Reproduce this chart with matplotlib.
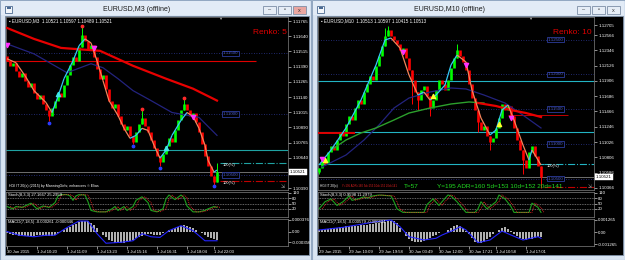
import numpy as np
import matplotlib
matplotlib.use("Agg")
import matplotlib.pyplot as plt
from matplotlib.patches import Rectangle
from matplotlib.collections import LineCollection

plt.rcParams['font.family'] = ['Liberation Sans', 'DejaVu Sans']

W, H = 625, 260

# ---------------- left chart: EURUSD M3, renko 5 ----------------
left_open0 = 1.11480
left_close = [1.11438, 1.11397, 1.11422, 1.11357, 1.11308, 1.11340, 1.11275, 1.11226, 1.11259, 1.11177,
              1.11128, 1.11160, 1.11079, 1.11030, 1.10981, 1.11046, 1.11111, 1.11177, 1.11144, 1.11242,
              1.11324, 1.11406, 1.11471, 1.11438, 1.11553, 1.11651, 1.11602, 1.11536, 1.11569, 1.11471,
              1.11373, 1.11291, 1.11324, 1.11209, 1.11111, 1.11046, 1.11079, 1.10981, 1.10915, 1.10866,
              1.10899, 1.10817, 1.10768, 1.10850, 1.10915, 1.10964, 1.10899, 1.10850, 1.10785, 1.10719,
              1.10654, 1.10605, 1.10670, 1.10736, 1.10801, 1.10768, 1.10866, 1.10948, 1.11030, 1.11079,
              1.11030, 1.10981, 1.11013, 1.10932, 1.10850, 1.10752, 1.10654, 1.10572, 1.10491, 1.10442,
              1.10521]
left_wick_idx = [14, 25, 42, 45, 51, 59, 69, 70]
left_wick_px = [1.10940, 1.11716, 1.10752, 1.11030, 1.10572, 1.11120, 1.10417, 1.10597]
left_low_dot_idx = [14, 42, 51, 69]
left_low_dot_px = [1.10930, 1.10740, 1.10560, 1.10405]
left_high_dot_idx = [25, 45, 59]
left_high_dot_px = [1.11725, 1.11040, 1.11130]
left_up_arrow_idx = [17, 53]
left_up_arrow_px = [1.11169, 1.10719]
left_dn_arrow_idx = [0, 29, 62]
left_dn_arrow_px = [1.11569, 1.11544, 1.10973]

left_sig_idx = [0, 3, 6, 9, 13, 15, 17, 19, 22, 24, 26, 28, 30, 32, 34, 37, 39, 41, 43, 45, 47, 49,
                51, 53, 55, 58, 60, 62, 64, 66, 67, 69, 70]
left_sig = [1.11455, 1.11422, 1.11316, 1.11193, 1.11095, 1.11013, 1.11144, 1.11291, 1.11438, 1.11561,
            1.11618, 1.11585, 1.11438, 1.11275, 1.11111, 1.10989, 1.10883, 1.10801, 1.10825, 1.10883,
            1.10866, 1.10744, 1.10638, 1.10703, 1.10825, 1.10948, 1.11013, 1.10981, 1.10883, 1.10744,
            1.10621, 1.10523, 1.10540]
left_red_ma_idx = [0, 9, 18, 31, 42, 53, 62, 70]
left_red_ma = [1.11708, 1.11618, 1.11544, 1.11520, 1.11397, 1.11291, 1.11209, 1.11111]
left_blue_ma_idx = [0, 9, 20, 28, 32, 37, 42, 48, 55, 64, 70]
left_blue_ma = [1.11577, 1.11495, 1.11340, 1.11414, 1.11381, 1.11291, 1.11193, 1.11111, 1.11013, 1.10973, 1.10825]

left_red_level = 1.11438
left_red_level_end = 83
left_teal_levels = [1.10703]
left_round_levels = [1.11500, 1.11000, 1.10500]
left_teal_dash = 1.10597
left_red_dash = 1.10450
left_current = 1.10521
left_price_ticks = [1.11765, 1.11640, 1.11515, 1.11390, 1.11265, 1.11140, 1.11015, 1.10890,
                    1.10765, 1.10640, 1.10390]

left_stoch_idx = [0, 2, 3, 5, 8, 9, 10, 12, 14, 16, 17, 18, 20, 21, 22, 23, 24, 26, 27, 28, 30, 33, 35,
                  36, 37, 39, 40, 42, 43, 45, 47, 48, 50, 52, 53, 54, 56, 58, 59, 60, 62, 64, 66, 67, 69, 70]
left_stoch = [33, 20, 33, 28, 52, 36, 20, 36, 28, 55, 93, 100, 100, 93, 68, 93, 100, 98, 60, 11, 3, 3, 20,
              33, 11, 33, 11, 33, 68, 88, 55, 11, 3, 20, 76, 98, 72, 98, 84, 36, 3, 3, 11, 20, 33, 28]

# MACD values in units of 1e-5
left_macd_hist = [-5, -8, -10, -12, -13, -14, -15, -15, -14, -13,
                  -12, -12, -13, -14, -15, -13, -10, -6, 0, 5,
                  10, 16, 22, 26, 30, 34, 35, 33, 28, 20,
                  10, 0, -10, -18, -26, -32, -36, -38, -38, -36,
                  -33, -30, -26, -22, -17, -13, -10, -9, -9, -10,
                  -11, -10, -5, 0, 5, 9, 12, 15, 18, 20,
                  19, 16, 12, 6, 0, -6, -12, -18, -22, -25,
                  -26]
left_macd_sig_idx = [0, 4, 9, 13, 16, 20, 24, 27, 30, 33, 38, 42, 45, 48, 51, 54, 58, 62, 66, 70]
left_macd_sig = [0, -12, -17, -12, -12, 13, 34, 34, -7, -38, -35, -30, -7, -17, -19, 3, 19, 3, -30, -30]
left_macd_ticks = [37.6, 0, -35.6]
left_macd_labels = ['0.000376', '0.00', '-0.000356']

left_time_ticks = [0, 10, 20, 30, 40, 50, 60, 69]
left_time_labels = ['30 Jun 2015', '1 Jul 10:20', '1 Jul 11:09', '1 Jul 13:23', '1 Jul 15:16',
                    '1 Jul 16:31', '1 Jul 18:04', '1 Jul 22:03']

# ---------------- right chart: EURUSD M10, renko 10 ----------------
right_open0 = 1.10600
right_close = [1.10653, 1.10768, 1.10711, 1.10884, 1.10970, 1.10912, 1.11056, 1.11171, 1.11114, 1.11286,
               1.11401, 1.11344, 1.11516, 1.11631, 1.11574, 1.11746, 1.11861, 1.11976, 1.11919, 1.12120,
               1.12264, 1.12408, 1.12552, 1.12638, 1.12552, 1.12494, 1.12437, 1.12350, 1.12379, 1.12235,
               1.12063, 1.11919, 1.11746, 1.11631, 1.11775, 1.11833, 1.11689, 1.11516, 1.11631, 1.11775,
               1.11919, 1.11861, 1.11775, 1.11919, 1.12091, 1.12235, 1.12350, 1.12264, 1.12178, 1.12063,
               1.11861, 1.11660, 1.11487, 1.11315, 1.11200, 1.11257, 1.11114, 1.11027, 1.11085, 1.11229,
               1.11372, 1.11574, 1.11487, 1.11545, 1.11401, 1.11229, 1.11056, 1.10912, 1.10768, 1.10653,
               1.10884, 1.10970, 1.10826, 1.10682, 1.10521]
right_wick_idx = [0, 22, 23, 31, 33, 37, 46, 53, 57, 68, 74]
right_wick_px = [1.10567, 1.12667, 1.12695, 1.11574, 1.11487, 1.11401, 1.12437, 1.11171, 1.10912, 1.10567, 1.10366]
right_up_arrow_idx = [2, 38, 60]
right_up_arrow_px = [1.10768, 1.11689, 1.11286]
right_dn_arrow_idx = [1, 28, 49, 64]
right_dn_arrow_px = [1.10783, 1.12322, 1.12135, 1.11372]

right_sig_idx = [0, 4, 9, 14, 19, 22, 24, 27, 30, 33, 35, 37, 39, 42, 44, 46, 49, 51, 54, 57, 59, 61,
                 63, 65, 68, 70, 71, 74]
right_sig = [1.10697, 1.10912, 1.11229, 1.11631, 1.12135, 1.12494, 1.12523, 1.12379, 1.11991, 1.11703,
             1.11746, 1.11631, 1.11703, 1.11847, 1.12135, 1.12278, 1.12178, 1.11775, 1.11372, 1.11128,
             1.11200, 1.11487, 1.11559, 1.11344, 1.10984, 1.10768, 1.10912, 1.10697]
right_blue_ma_idx = [1, 9, 15, 20, 25, 30, 37, 44, 49, 55, 62, 67, 74]
right_blue_ma = [1.10668, 1.10840, 1.11056, 1.11272, 1.11516, 1.11660, 1.11746, 1.11804, 1.11790,
                 1.11703, 1.11588, 1.11444, 1.11229]
right_green_ma_idx = [4, 9, 14, 19, 25, 30, 37, 44, 50, 55]
right_green_ma = [1.10912, 1.11056, 1.11157, 1.11229, 1.11344, 1.11444, 1.11516, 1.11574, 1.11603, 1.11588]
right_red_ma_idx = [53, 59, 64, 69, 74]
right_red_ma = [1.11588, 1.11545, 1.11487, 1.11444, 1.11387]

right_red_seg = 1.11157
right_red_seg_end = 12
right_red_thin = 1.11416
right_red_thin_span = (63, 83)
right_teal_levels = [1.11905, 1.11171]
right_round_levels = [1.12500, 1.12000, 1.11500, 1.11000, 1.10500]
right_teal_dash = 1.10711
right_red_dash = 1.10380
right_current = 1.10521
right_price_ticks = [1.12705, 1.12566, 1.12346, 1.12126, 1.11906, 1.11686, 1.11466, 1.11246,
                     1.11026, 1.10806, 1.10586, 1.10366]

right_stoch_idx = [0, 2, 4, 6, 8, 10, 11, 13, 15, 16, 18, 20, 24, 25, 26, 28, 35, 36, 38, 40, 41, 43, 44,
                   46, 48, 49, 52, 53, 54, 55, 56, 59, 60, 62, 64, 65, 68, 70, 71, 73, 74]
right_stoch = [20, 60, 76, 39, 60, 93, 68, 76, 88, 81, 93, 98, 93, 60, 20, 0, 0, 44, 76, 39, 60, 98, 93,
               60, 20, 0, 0, 20, 60, 39, 20, 60, 98, 76, 33, 0, 0, 0, 52, 28, 0]

right_macd_hist = [20, 25, 30, 35, 38, 42, 46, 50, 55, 58,
                   60, 62, 65, 68, 70, 74, 78, 82, 86, 90,
                   95, 100, 108, 115, 120, 112, 90, 45, 0, -40,
                   -75, -95, -105, -108, -105, -95, -80, -65, -45, -30,
                   -15, -5, 5, 25, 45, 62, 70, 65, 45, 15,
                   -20, -60, -100, -120, -115, -100, -75, -50, -25, 0,
                   25, 45, 50, 35, 10, -20, -45, -65, -75, -80,
                   -78, -70, -60, -55, -55]
right_macd_sig_idx = [0, 8, 19, 24, 27, 30, 35, 39, 41, 45, 47, 49, 53, 57, 61, 64, 68, 73, 74]
right_macd_sig = [21, 49, 108, 126, 56, -49, -84, -66, -32, 21, 56, 21, -112, -84, 10, -32, -84, -49, -66]
right_macd_ticks = [126.5, 0, -126.5]
right_macd_labels = ['0.001265', '0.00', '-0.001265']

right_time_ticks = [0, 10, 20, 30, 40, 50, 59, 69]
right_time_labels = ['29 Jun 2015', '29 Jun 10:09', '29 Jun 19:58', '30 Jun 03:49', '30 Jun 12:00',
                     '30 Jun 17:21', '1 Jul 10:58', '1 Jul 17:01']

stoch_levels = [80, 50, 20]
stoch_ticks = [110, 80, 50, 20]

TXT = 3.2


def box(x0, y0, x1, y1):
    return [x0 / W, 1 - y1 / H, (x1 - x0) / W, (y1 - y0) / H]


def style(ax, xlim):
    ax.set_facecolor('black')
    ax.set_xlim(xlim)
    for s in ax.spines.values():
        s.set_color('#808080')
        s.set_linewidth(0.5)
    ax.yaxis.tick_right()
    ax.tick_params(axis='y', colors='white', labelsize=TXT, length=2, width=0.4, pad=1)
    ax.set_xticks([])


def renko(ax, close, open0, wick_idx, wick_px):
    close = np.asarray(close)
    opens = np.r_[open0, close[:-1]]
    x = np.arange(len(close))
    up = close >= opens
    lo = np.minimum(opens, close)
    hi = np.maximum(opens, close)
    for i, p in zip(wick_idx, wick_px):
        col = '#00ff00' if up[i] else '#ff0000'
        ax.vlines(i, min(p, lo[i]), max(p, hi[i]), color=col, lw=0.7, zorder=3)
    ax.vlines(x[up], lo[up], hi[up], color='#00ff00', lw=1.9, zorder=3)
    ax.vlines(x[~up], lo[~up], hi[~up], color='#ff0000', lw=1.9, zorder=3)


def sig_line(ax, idx, vals):
    pts = np.column_stack([idx, vals])
    segs = np.stack([pts[:-1], pts[1:]], axis=1)
    cols = ['#35c8f5' if b > a else '#f4845a' for a, b in zip(vals[:-1], vals[1:])]
    ax.add_collection(LineCollection(segs, colors=cols, linewidths=0.9, zorder=5))


def round_levels(ax, levels, xbox):
    for p in levels:
        ax.axhline(p, color='#2a3590', lw=0.6, ls=(0, (1, 2)), zorder=1)
        ax.text(xbox, p, f'{p:.5f}', color='#4a5cc8', fontsize=TXT, ha='center', va='center', zorder=2,
                bbox=dict(boxstyle='square,pad=0.15', fc='black', ec='#2d3c9c', lw=0.6))


def current_price(ax, p):
    ax.axhline(p, color='#9a9a9a', lw=0.5, zorder=1)
    ax.annotate(f'{p:.5f}', xy=(1, p), xycoords=('axes fraction', 'data'), xytext=(1.5, 0),
                textcoords='offset points', fontsize=TXT, color='black', ha='left', va='center',
                annotation_clip=False, zorder=10,
                bbox=dict(boxstyle='square,pad=0.2', fc='white', ec='white', lw=0.3))


def price_ticks(ax, ticks):
    ax.set_yticks(ticks)
    ax.set_yticklabels([f'{t:.5f}' for t in ticks])


def stoch_panel(ax, idx, vals, label, xlim):
    style(ax, xlim)
    for lv in stoch_levels:
        ax.axhline(lv, color='#c8c8c8', lw=0.4, ls=(0, (1.5, 1.5)))
    ax.plot(idx, vals, color='#1ea01e', lw=0.8)
    ax.plot(np.array(idx) + 1, vals, color='#ff2a2a', lw=0.6, ls=(0, (1, 1.2)))
    ax.set_ylim(-26, 115)
    ax.set_yticks(stoch_ticks)
    ax.set_yticklabels([str(t) for t in stoch_ticks])
    ax.text(0.008, 0.96, label, transform=ax.transAxes, color='white', fontsize=3.0, va='top')


def macd_panel(ax, hist, sig_idx, sig, ylim, ticks, labels, tticks, tlabels, title, xlim):
    style(ax, xlim)
    ax.bar(np.arange(len(hist)), hist, width=0.35, color='#b0b0b0', zorder=2)
    ax.plot(sig_idx, sig, color='#2424ff', lw=0.8, zorder=3)
    ax.set_ylim(ylim)
    ax.set_yticks(ticks)
    ax.set_yticklabels(labels)
    ax.set_xticks(tticks)
    ax.set_xticklabels(tlabels, ha='left')
    ax.tick_params(axis='x', colors='white', labelsize=3.0, length=2, width=0.4, pad=1)
    ax.text(0.008, 0.96, title, transform=ax.transAxes, color='white', fontsize=3.0, va='top')


fig = plt.figure(figsize=(W / 100, H / 100), dpi=100, facecolor='#cbd9ea')

# window frames
bg = fig.add_axes([0, 0, 1, 1])
bg.set_xlim(0, W)
bg.set_ylim(H, 0)
bg.axis('off')
windows = [(0, 311, 'EURUSD,M3 (offline)', 137, True), (312, 625, 'EURUSD,M10 (offline)', 450, False)]
for x0, x1, title, tcx, active in windows:
    bg.add_patch(Rectangle((x0, 0), x1 - x0, H, fc='#d8e4f2', ec='#93a8c2', lw=0.8))
    bg.add_patch(Rectangle((x0 + 1, 1), x1 - x0 - 2, 14, fc='#e2ebf6', ec='none'))
    bg.add_patch(Rectangle((x0 + 5, 16), x1 - x0 - 7, 239, fc='black', ec='#7d8fa6', lw=0.6))
    bg.add_patch(Rectangle((x0 + 5, 6), 7, 7, fc='#f4f7fb', ec='#4b6a92', lw=0.6))
    bg.add_patch(Rectangle((x0 + 6.5, 7), 4, 1.5, fc='#4b6a92', ec='none'))
    bg.text(tcx, 9.5, title, fontsize=5, ha='center', va='center', color='#1a1a1a')
    bx = x1 - 48
    for k, glyph in enumerate(['–', '▫', 'x']):
        fc = '#e9a6a0' if (active and k == 2) else '#e6edf6'
        bg.add_patch(Rectangle((bx + k * 15, 6), 13, 8, fc=fc, ec='#7d8ea6', lw=0.6))
        bg.text(bx + k * 15 + 6.5, 10, glyph, fontsize=4, ha='center', va='center', color='#333333')

# left window
lx = (-0.33, 93.67)
axL = fig.add_axes(box(6, 17, 288, 190))
style(axL, lx)
axL.set_ylim(1.10376, 1.11798)
price_ticks(axL, left_price_ticks)
for p in left_teal_levels:
    axL.axhline(p, color='#1fa2a2', lw=0.8, zorder=1)
axL.hlines(left_red_level, lx[0], left_red_level_end, color='#e00000', lw=0.8, zorder=1)
round_levels(axL, left_round_levels, 74.5)
current_price(axL, left_current)
axL.hlines(left_teal_dash, 71, lx[1], color='#1fa2a2', lw=0.8, ls='-.', zorder=1)
axL.hlines(left_red_dash, 71, lx[1], color='#c00000', lw=0.8, ls='-.', zorder=1)
axL.text(72, left_teal_dash, '100(%)', color='white', fontsize=2.8, va='top', zorder=6)
axL.text(72, left_red_dash, '100(%)', color='white', fontsize=2.8, va='top', zorder=6)
axL.plot(left_red_ma_idx, left_red_ma, color='#e80000', lw=1.6, zorder=4)
axL.plot(left_blue_ma_idx, left_blue_ma, color='#23237e', lw=0.9, zorder=4)
renko(axL, left_close, left_open0, left_wick_idx, left_wick_px)
sig_line(axL, left_sig_idx, left_sig)
axL.scatter(left_low_dot_idx, left_low_dot_px, s=3, color='#2a3cff', zorder=6)
axL.scatter(left_high_dot_idx, left_high_dot_px, s=3, color='#ff2a2a', zorder=6)
axL.scatter(left_up_arrow_idx, left_up_arrow_px, s=9, marker='^', color='#3fe6e6', zorder=6)
axL.scatter(left_dn_arrow_idx, left_dn_arrow_px, s=9, marker='v', color='#ff30ff', zorder=6)

axLs = fig.add_axes(box(6, 192, 288, 217))
stoch_panel(axLs, left_stoch_idx, left_stoch, 'Stoch(8,3,3) 27.1667 25.2959', lx)
axLm = fig.add_axes(box(6, 219, 288, 246))
macd_panel(axLm, left_macd_hist, left_macd_sig_idx, left_macd_sig, (-47, 40.7), left_macd_ticks,
           left_macd_labels, left_time_ticks, left_time_labels, 'MACD(7,18,5) -0.000261 -0.000346', lx)

# right window
rx = (-0.33, 91.67)
axR = fig.add_axes(box(318, 17, 594, 190))
style(axR, rx)
axR.set_ylim(1.10337, 1.12825)
price_ticks(axR, right_price_ticks)
for p in right_teal_levels:
    axR.axhline(p, color='#22b4c4', lw=0.8, zorder=1)
axR.hlines(right_teal_dash, rx[0], 75, color='#22b4c4', lw=0.8, zorder=1)
axR.hlines(right_teal_dash, 75, rx[1], color='#22b4c4', lw=0.8, ls='-.', zorder=1)
axR.hlines(right_red_dash, 75, rx[1], color='#c00000', lw=0.8, ls='-.', zorder=1)
axR.text(76, right_teal_dash, '100(%)', color='white', fontsize=2.8, va='top', zorder=6)
round_levels(axR, right_round_levels, 78.7)
current_price(axR, right_current)
axR.hlines(right_red_thin, *right_red_thin_span, color='#e00000', lw=0.6, zorder=1)
axR.hlines(right_red_seg, rx[0], right_red_seg_end, color='#e00000', lw=1.4, zorder=4)
axR.plot(right_blue_ma_idx, right_blue_ma, color='#23237e', lw=0.9, zorder=4)
axR.plot(right_green_ma_idx, right_green_ma, color='#2ca02c', lw=1.0, zorder=4)
axR.plot(right_red_ma_idx, right_red_ma, color='#e80000', lw=1.6, zorder=4)
renko(axR, right_close, right_open0, right_wick_idx, right_wick_px)
sig_line(axR, right_sig_idx, right_sig)
axR.scatter(right_up_arrow_idx, right_up_arrow_px, s=9, marker='^', color='#ffff30', zorder=6)
axR.scatter(right_dn_arrow_idx, right_dn_arrow_px, s=9, marker='v', color='#ff30ff', zorder=6)

axRs = fig.add_axes(box(318, 192, 594, 217))
stoch_panel(axRs, right_stoch_idx, right_stoch, 'Stoch(8,3,3) 0.9598 11.2979', rx)
axRm = fig.add_axes(box(318, 219, 594, 246))
macd_panel(axRm, right_macd_hist, right_macd_sig_idx, right_macd_sig, (-147, 136.5), right_macd_ticks,
           right_macd_labels, right_time_ticks, right_time_labels, 'MACD(7,18,5) -0.000579 -0.000494', rx)

# overlay texts
ov = fig.add_axes([0, 0, 1, 1], zorder=20)
ov.set_xlim(0, W)
ov.set_ylim(H, 0)
ov.axis('off')
ov.patch.set_alpha(0)
ov.text(9, 20.5, '▪ EURUSD,M3  1.10521 1.10597 1.10489 1.10521', color='white', fontsize=3.3, va='center')
ov.text(321, 20.5, '▪ EURUSD,M10  1.10513 1.10597 1.10415 1.10513', color='white', fontsize=3.3, va='center')
ov.text(287, 32, 'Renko: 5', color='#e00000', fontsize=6, ha='right', va='center')
ov.text(592, 32, 'Renko: 10', color='#e00000', fontsize=6, ha='right', va='center')
ov.text(220, 19, '▼', color='#aaaaaa', fontsize=3, ha='center', va='center')
ov.text(530, 19, '▼', color='#aaaaaa', fontsize=3, ha='center', va='center')
ov.text(9, 186, 'HGI IT 20(x) (2015) by ManningGirls; enhancers © Elias', color='white', fontsize=2.6,
        va='center')
ov.text(320, 186, 'HGI IT 20(x)', color='white', fontsize=2.3, va='center')
ov.text(342, 186, 'Y=195 ADR=160 5d=153 10d=152 20d=141', color='#e02020', fontsize=2.0, va='center')
ov.text(404, 186, 'T=57', color='#22dd22', fontsize=4.6, va='center')
ov.text(437, 186, 'Y=195 ADR=160 5d=153 10d=152 20d=141', color='#22dd22', fontsize=4.6, va='center')
ov.text(283, 186, '⇲', color='#9a9a9a', fontsize=3.5, ha='center', va='center')
ov.text(590, 186, '⇲', color='#9a9a9a', fontsize=3.5, ha='center', va='center')

fig.savefig('out.png', dpi=100, facecolor=fig.get_facecolor())
